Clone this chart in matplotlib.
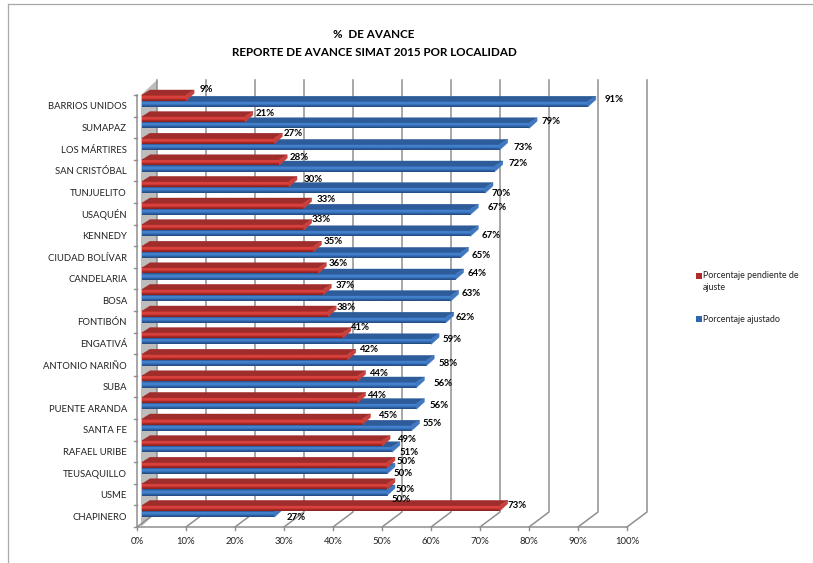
import matplotlib
matplotlib.use('Agg')
import matplotlib.pyplot as plt
from matplotlib.colors import to_rgb
from matplotlib.patches import Polygon
import numpy as np

localidades = ['BARRIOS UNIDOS', 'SUMAPAZ', 'LOS MÁRTIRES', 'SAN CRISTÓBAL', 'TUNJUELITO',
               'USAQUÉN', 'KENNEDY', 'CIUDAD BOLÍVAR', 'CANDELARIA', 'BOSA', 'FONTIBÓN',
               'ENGATIVÁ', 'ANTONIO NARIÑO', 'SUBA', 'PUENTE ARANDA', 'SANTA FE',
               'RAFAEL URIBE', 'TEUSAQUILLO', 'USME', 'CHAPINERO']
pendiente = [9, 21, 27, 28, 30, 33, 33, 35, 36, 37, 38, 41, 42, 44, 44, 45, 49, 50, 50, 73]
ajustado = [91, 79, 73, 72, 70, 67, 67, 65, 64, 63, 62, 59, 58, 56, 56, 55, 51, 50, 50, 27]

# centres des étiquettes (pixels)
pos_pendiente = [(206, 89), (265, 113), (293, 133), (299, 157), (313, 179), (326, 199), (321, 219),
                 (333, 242), (338, 263), (345, 286), (346, 308), (360, 328), (369, 349), (378, 373),
                 (376, 396), (388, 416), (406, 439), (406, 462), (405, 489), (517, 505)]
pos_ajustado = [(614, 99), (551, 122), (523, 148), (518, 163), (501, 193), (497, 208), (491, 236),
                (481, 256), (477, 273), (471, 293), (465, 317), (452, 339), (448, 363), (443, 383),
                (439, 406), (432, 423), (409, 452), (403, 474), (401, 499), (296, 518)]

W, H = 813, 563
plt.rcParams['font.family'] = ['Lato', 'DejaVu Sans']
fig = plt.figure(figsize=(W / 100, H / 100), dpi=100)

# plan avant : 0-100 % de x=137 à x=627, catégories de y=95 à y=527
ax = fig.add_axes([137 / W, 1 - 527 / H, 490 / W, 432 / H])
ax.axis('off')

px_x = 100 / 490
px_y = 20 / 432
prof_x = 20 * px_x
prof_y = 15 * px_y
gris = '#8f8f8f'

# parois et grille
ax.add_patch(Polygon([(0.8, 0), (prof_x, -prof_y), (prof_x, 20 - prof_y), (0.8, 20)],
                     fc='#bdbdbd', ec='none', clip_on=False, zorder=1))
for v in range(0, 101, 10):
    ax.plot([v + prof_x, v + prof_x, v], [-prof_y, 20 - prof_y, 20], color=gris, lw=1.1,
            clip_on=False, zorder=1)
    ax.plot([v, v], [20, 20 + 3 * px_y], color=gris, lw=1, clip_on=False, zorder=1)
    ax.text(v, 20 + 14.5 * px_y, f'{v}%', ha='center', va='center', fontsize=6.9, color='#222222')
ax.plot([0, 100], [20, 20], color=gris, lw=1.1, clip_on=False, zorder=1)
ax.plot([0, 0], [0, 20], color=gris, lw=1.1, clip_on=False, zorder=1)
for i in range(21):
    ax.plot([-3 * px_x, 0], [i, i], color=gris, lw=1, clip_on=False, zorder=1)
for i, nom in enumerate(localidades):
    ax.text(-10 * px_x, i + 0.55, nom, ha='right', va='center', fontsize=6.8, color='#222222')

# barres 3D
bar_x = 5 * px_x
haut = 5.6 * px_y
ep_x = 8 * px_x
ep_y = 5 * px_y


def barre(i, decal, val, degrade, c_dessus, c_bout, z):
    x1 = bar_x + val
    y0 = i + decal
    ax.barh(y0 + haut / 2, val, left=bar_x, height=haut, color=degrade[2], zorder=z)
    ax.imshow(degrade, extent=(bar_x, x1, y0 + haut, y0), aspect='auto', interpolation='bilinear',
              origin='upper', zorder=z + 0.1, clip_on=False)
    ax.add_patch(Polygon([(bar_x, y0), (bar_x + ep_x, y0 - ep_y), (x1 + ep_x, y0 - ep_y), (x1, y0)],
                         fc=c_dessus, ec=c_dessus, lw=0.3, clip_on=False, zorder=z + 0.2))
    ax.add_patch(Polygon([(x1, y0), (x1 + ep_x, y0 - ep_y), (x1 + ep_x, y0 - ep_y + haut * 0.6), (x1, y0 + haut)],
                         fc=c_bout, ec=c_bout, lw=0.3, clip_on=False, zorder=z + 0.2))


def degrade(couleurs):
    return np.array([[to_rgb(c)] for c in couleurs])


rouge = degrade(['#c43330', '#dc4642', '#d83f3b', '#b32c2a', '#8e2422'])
bleu = degrade(['#3a72ba', '#4687d4', '#3f7bc6', '#2f64a8', '#254f86'])
for i in range(len(localidades)):
    z = 3 + i
    barre(i, 6.2 * px_y, ajustado[i], bleu, '#2e5c9a', '#3f78c0', z)
    barre(i, 0, pendiente[i], rouge, '#9e2d2b', '#c8403c', z + 0.5)

ax.set_xlim(0, 100)
ax.set_ylim(20, 0)

# étiquettes
for vals, pos in ((pendiente, pos_pendiente), (ajustado, pos_ajustado)):
    for v, (xp, yp) in zip(vals, pos):
        ax.text((xp - 137) * px_x, (yp - 95) * px_y, f'{v}%', ha='center', va='center', fontsize=6.9,
                fontweight='bold', color='black', zorder=40, clip_on=False)

# titre, légende, cadre
fig.text(374 / W, 1 - 35 / H, '%  DE AVANCE', ha='center', va='center', fontsize=8.4, fontweight='bold')
fig.text(374 / W, 1 - 52 / H, 'REPORTE DE AVANCE SIMAT 2015 POR LOCALIDAD', ha='center', va='center',
         fontsize=8.4, fontweight='bold')

for y_c, couleur in ((276, '#b02c2a'), (319, '#2f66ad')):
    fig.patches.append(Polygon([(696 / W, 1 - (y_c - 3) / H), (702 / W, 1 - (y_c - 3) / H),
                                (702 / W, 1 - (y_c + 3) / H), (696 / W, 1 - (y_c + 3) / H)],
                               transform=fig.transFigure, fc=couleur, ec='none'))
fig.text(703 / W, 1 - 276 / H, 'Porcentaje pendiente de', va='center', fontsize=6.4, color='#222222')
fig.text(703 / W, 1 - 288 / H, 'ajuste', va='center', fontsize=6.4, color='#222222')
fig.text(703 / W, 1 - 319 / H, 'Porcentaje ajustado', va='center', fontsize=6.4, color='#222222')

fig.add_artist(plt.Line2D([8 / W, 8 / W], [0, 1 - 4 / H], color='#a8a8a8', lw=0.9))
fig.add_artist(plt.Line2D([8 / W, 1], [1 - 4 / H, 1 - 4 / H], color='#a8a8a8', lw=0.9))

fig.savefig('out.png', dpi=100)
